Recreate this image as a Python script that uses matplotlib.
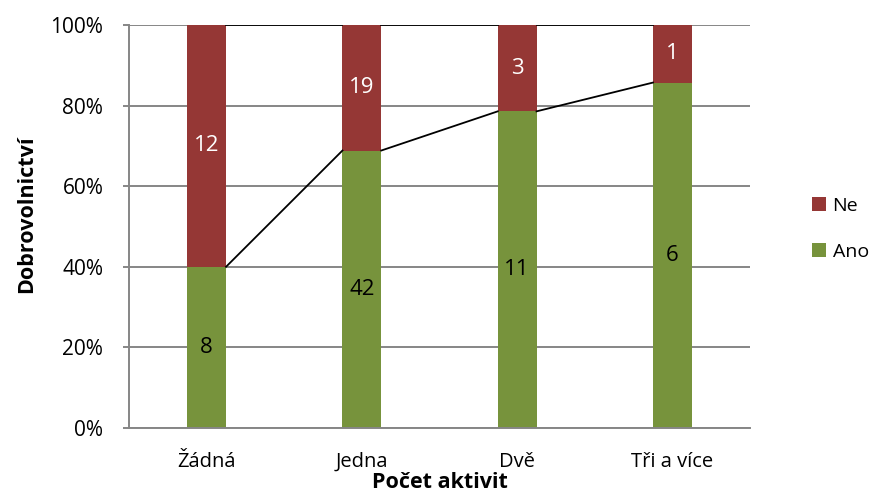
import matplotlib
matplotlib.use('Agg')
from matplotlib import pyplot as plt
import numpy as np

categories = ['Žádná', 'Jedna', 'Dvě', 'Tři a více']
ano = [8, 42, 11, 6]
ne = [12, 19, 3, 1]
yticks = [0, 20, 40, 60, 80, 100]

plt.rcParams['font.family'] = ['Open Sans', 'DejaVu Sans']

ano_c = '#77933C'
ne_c = '#953735'

x = np.arange(len(categories))
ano_a = np.array(ano, dtype=float)
ne_a = np.array(ne, dtype=float)
total = ano_a + ne_a
ano_pct = ano_a / total * 100
ne_pct = ne_a / total * 100
w = 0.25

fig = plt.figure(figsize=(8.78, 4.95), dpi=100)
ax = fig.add_axes([129/878, 67/495, 621/878, 403/495])

# gridlines
for t in yticks:
    ax.axhline(t, color='#868686', lw=1.4, zorder=0)

b1 = ax.bar(x, ano_pct, w, color=ano_c, label='Ano', zorder=2)
b2 = ax.bar(x, ne_pct, w, bottom=ano_pct, color=ne_c, label='Ne', zorder=2)

# series lines between bars
for i in range(len(x) - 1):
    ax.plot([x[i] + w/2, x[i+1] - w/2], [ano_pct[i], ano_pct[i+1]],
            color='black', lw=1.3, zorder=3)
    ax.plot([x[i] + w/2, x[i+1] - w/2], [100, 100],
            color='black', lw=1.3, zorder=3)

# data labels
for i in range(len(x)):
    ax.text(x[i], ano_pct[i]/2, str(ano[i]), ha='center', va='center',
            fontsize=16, color='black', zorder=4)
    ax.text(x[i], ano_pct[i] + ne_pct[i]/2, str(ne[i]), ha='center',
            va='center', fontsize=16, color='white', zorder=4)

ax.set_xlim(-0.5, len(x) - 0.5)
ax.set_ylim(0, 100)
ax.set_yticks(yticks)
ax.set_yticklabels([f'{t}%' for t in yticks])
ax.set_xticks(x)
ax.set_xticklabels(categories)
ax.tick_params(axis='y', length=4, width=1.4, color='#868686', labelsize=15, pad=14.5)
ax.tick_params(axis='x', length=0, labelsize=14.5, pad=17)

for s in ['top', 'right']:
    ax.spines[s].set_visible(False)
for s in ['left', 'bottom']:
    ax.spines[s].set_color('#868686')
    ax.spines[s].set_linewidth(1.4)
    ax.spines[s].set_zorder(5)

ax.set_xlabel('Počet aktivit', fontsize=15.5, fontweight='bold')
ax.set_ylabel('Dobrovolnictví', fontsize=15.5, fontweight='bold')
ax.xaxis.set_label_coords(0.5, -0.11)
ax.yaxis.set_label_coords(-0.148, 0.53)

leg = ax.legend(handles=[b2, b1], loc='center left', bbox_to_anchor=(1.071, 0.494),
                frameon=False, fontsize=14, handlelength=0.72, handleheight=0.72,
                labelspacing=1.45, handletextpad=0.36)

fig.savefig('out.png', dpi=100)
